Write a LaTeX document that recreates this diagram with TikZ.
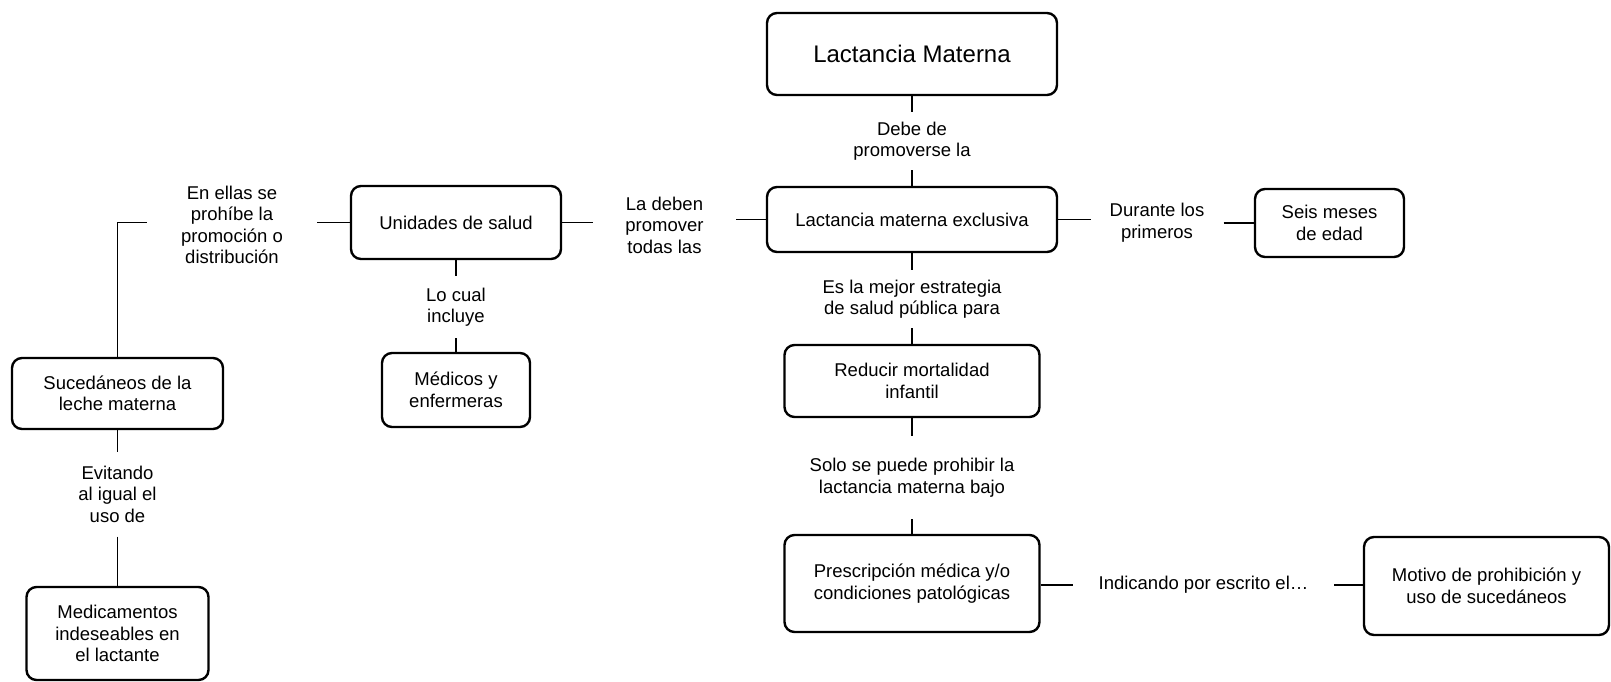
\documentclass[tikz,border=0pt]{standalone}
\usepackage{fontspec}
\setmainfont{Liberation Sans}
\usepackage{tikz}

\newcommand{\textomapa}{\fontsize{18.5}{21.5}\selectfont}

\begin{document}
\begin{tikzpicture}[x=1pt, y=-1pt, %%% y=-1pt so coordinates run like pixels, from the top
    caja/.style={draw, line width=2.4pt, rounded corners=10pt, align=center, inner sep=0pt, font=\textomapa},
    etiq/.style={align=center, font=\textomapa, inner xsep=26pt, inner ysep=9.5pt},
    union/.style={line width=1.2pt}]
      \useasboundingbox (0,0) rectangle (1611,681);
      %%% central column
      \node[caja, minimum width=290pt, minimum height=82pt, font=\fontsize{24}{28}\selectfont] (lm) at (912,54) {Lactancia Materna};
      \node[caja, minimum width=290pt, minimum height=65pt] (lme) at (912,219.5) {Lactancia materna exclusiva};
      \node[caja, minimum width=255pt, minimum height=72pt] (reducir) at (912,381) {Reducir mortalidad\\infantil};
      \node[caja, minimum width=255pt, minimum height=97pt] (prescrip) at (912,583.5) {Prescripción médica y/o\\condiciones patológicas};
      \node[caja, minimum width=245pt, minimum height=98pt] (motivo) at (1486.5,586) {Motivo de prohibición y\\uso de sucedáneos};
      \node[caja, minimum width=149pt, minimum height=68pt] (seis) at (1329.5,223) {Seis meses\\de edad};
      %%% left side
      \node[caja, minimum width=210pt, minimum height=73pt] (unidades) at (456,222.5) {Unidades de salud};
      \node[caja, minimum width=148pt, minimum height=74pt] (medicos) at (456,390) {Médicos y\\enfermeras};
      \node[caja, minimum width=211pt, minimum height=71pt] (sucedaneos) at (117.5,393.5) {Sucedáneos de la\\leche materna};
      \node[caja, minimum width=182pt, minimum height=93pt] (medicamentos) at (117.5,633.5) {Medicamentos\\indeseables en\\el lactante};

      %%% linking phrases
      \node[etiq] (debe) at (912,141) {Debe de\\promoverse la};
      \node[etiq] (esla) at (912,299) {Es la mejor estrategia\\de salud pública para};
      \node[etiq, inner ysep=22pt] (solo) at (912,477.5) {Solo se puede prohibir la\\lactancia materna bajo};
      \node[etiq, inner xsep=25.5pt] (indicando) at (1203.5,585) {Indicando por escrito el…};
      \node[etiq, inner xsep=19pt] (durante) at (1157,222.5) {Durante los\\primeros};
      \node[etiq, inner xsep=32.5pt] (deben) at (664.5,225) {La deben\\promover\\todas las};
      \node[etiq, inner xsep=34pt] (ellas) at (232,225) {En ellas se\\prohíbe la\\promoción o\\distribución};
      \node[etiq, inner ysep=11.5pt] (locual) at (456,307) {Lo cual\\incluye};
      \node[etiq, inner ysep=14pt] (evitando) at (117.5,494) {Evitando\\al igual el\\uso de};

      %%% connectors
      \draw[union] (lm.south) -- (debe.north);
      \draw[union] (debe.south) -- (lme.north);
      \draw[union] (lme.south) -- (esla.north);
      \draw[union] (esla.south) -- (reducir.north);
      \draw[union] (reducir.south) -- (solo.north);
      \draw[union] (solo.south) -- (prescrip.north);
      \draw[union] (prescrip.east |- indicando.west) -- (indicando.west);
      \draw[union] (indicando.east) -- (motivo.west |- indicando.east);
      \draw[union] (lme.east) -- (lme.east -| durante.west);
      \draw[union] (seis.west -| durante.east) -- (seis.west);
      \draw[union] (lme.west) -- (lme.west -| deben.east);
      \draw[union] (unidades.east -| deben.west) -- (unidades.east);
      \draw[union] (unidades.west) -- (unidades.west -| ellas.east);
      \draw[union] (unidades.west -| ellas.west) -- (sucedaneos.north |- unidades.west) -- (sucedaneos.north);
      \draw[union] (unidades.south) -- (locual.north);
      \draw[union] (locual.south) -- (medicos.north);
      \draw[union] (sucedaneos.south) -- (evitando.north);
      \draw[union] (evitando.south) -- (medicamentos.north);
\end{tikzpicture}
\end{document}
